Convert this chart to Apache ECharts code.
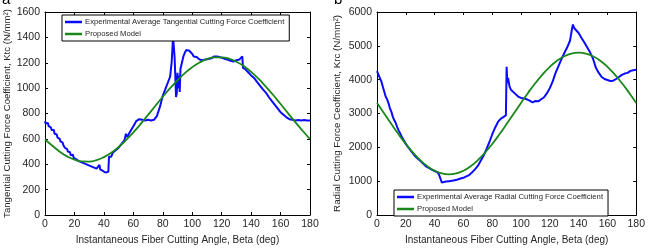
<!DOCTYPE html>
<html>
<head>
<meta charset="utf-8">
<script src="https://cdn.jsdelivr.net/npm/echarts@6/dist/echarts.min.js"></script>
<style>
html, body { margin: 0; padding: 0; background: #fff; }
#chart { width: 648px; height: 250px; }
</style>
</head>
<body>
<div id="chart"></div>
<script>
// beta (deg) ticks
const xTicks = [0, 20, 40, 60, 80, 100, 120, 140, 160, 180]

// (a) tangential coefficient, experimental [beta, Ktc]
const ktcExperimental = [
    [0, 740], [0.5, 720], [1, 730], [1.5, 705], [2, 725], [2.5, 700], [3, 710], [3.5, 685], [4, 690], [4.5, 670], [5, 680],
    [5.5, 655], [6, 670], [6.5, 640], [7, 650], [7.5, 625], [8, 635], [8.5, 610], [9, 620], [9.5, 595], [10, 600],
    [10.5, 580], [11, 590], [11.5, 565], [12, 570], [12.5, 550], [13, 555], [13.5, 530], [14, 540], [14.5, 515], [15, 520],
    [15.5, 500], [16, 505], [16.5, 485], [17, 495], [17.5, 470], [18, 480], [18.5, 460], [19, 475], [19.5, 450], [20, 460],
    [21, 440], [22, 450], [23, 425], [24, 435], [25, 415], [26, 425], [27, 405], [28, 415], [29, 395], [30, 405],
    [31, 385], [32, 395], [33, 375], [34, 385], [35, 365], [36, 375], [37, 395], [37.5, 360], [38, 370], [39, 350], [40, 355],
    [41, 335], [42, 330], [43, 340], [43.5, 460], [44, 475], [45, 460], [46, 490], [47, 480], [48, 510], [49, 505],
    [50, 530], [51, 525], [52, 560], [53, 555], [54, 590], [55, 640], [56, 615], [57, 640], [58, 660], [59, 680], [60, 700],
    [61, 720], [62, 740], [64, 755], [66, 750], [68, 745], [70, 750], [72, 745], [74, 750], [76, 780], [78, 850],
    [80, 940], [82, 1000], [84, 1060], [85, 1090], [86, 1200], [87, 1400], [88, 1250], [88.5, 1100], [89, 930], [89.5, 960],
    [90, 1120], [90.5, 1000], [91, 1100], [91.5, 970], [92, 1150], [93, 1200], [94, 1250], [95, 1280], [96, 1300], [97, 1310],
    [98, 1295], [99, 1280], [100, 1270], [101, 1250], [102, 1240], [103, 1245], [104, 1230], [105, 1225], [106, 1215], [107, 1220],
    [108, 1205], [109, 1225], [110, 1210], [111, 1230], [112, 1220], [113, 1235], [114, 1240], [115, 1250], [116, 1255], [117, 1250],
    [118, 1245], [120, 1240], [122, 1230], [124, 1225], [126, 1215], [128, 1210], [130, 1220], [132, 1225], [133, 1240], [134, 1250],
    [134.5, 1160], [136, 1150], [138, 1125], [140, 1100], [142, 1080], [144, 1050], [146, 1020], [148, 990], [150, 965], [152, 930],
    [154, 900], [156, 870], [158, 840], [160, 810], [162, 790], [164, 770], [166, 755], [168, 750], [170, 745], [172, 748],
    [174, 745], [176, 748], [178, 745], [180, 745]
]

// (a) proposed model, every 5 deg
const ktcModel = [595, 546, 499, 462, 436, 422, 421, 432, 456, 490, 536, 590, 651, 718, 789, 861, 932, 1000, 1062,
    1118, 1165, 1202, 1228, 1242, 1243, 1232, 1208, 1174, 1128, 1074, 1012, 946, 875, 803, 732, 664, 598]

// (b) radial coefficient, experimental [beta, Krc]
const krcExperimental = [
    [0, 4250], [1, 4150], [2, 4100], [3, 3950], [4, 3800], [5, 3650], [6, 3500], [7, 3420], [8, 3300], [9, 3150],
    [10, 3050], [11, 2900], [12, 2800], [13, 2720], [14, 2600], [15, 2500], [16, 2420], [17, 2330], [18, 2250], [19, 2180],
    [20, 2100], [22, 1980], [24, 1870], [26, 1760], [28, 1680], [30, 1600], [32, 1520], [34, 1440], [36, 1390], [38, 1340],
    [40, 1300], [42, 1260], [43, 1200], [44, 1150], [45, 960], [46, 970], [48, 990], [50, 1000], [52, 1010], [54, 1030],
    [56, 1050], [58, 1080], [60, 1100], [62, 1140], [64, 1180], [66, 1260], [68, 1350], [70, 1450], [72, 1600], [74, 1750],
    [76, 1950], [78, 2150], [80, 2380], [82, 2580], [84, 2750], [86, 2850], [88, 2900], [89.5, 2950], [90, 4380], [90.5, 3900],
    [91, 4050], [92, 3800], [93, 3700], [94, 3650], [96, 3580], [98, 3500], [100, 3460], [102, 3450], [104, 3420], [106, 3380],
    [108, 3330], [110, 3370], [112, 3360], [114, 3420], [116, 3480], [118, 3600], [120, 3750], [122, 3950], [124, 4200], [126, 4400],
    [128, 4600], [130, 4780], [132, 4950], [134, 5150], [135, 5400], [136, 5630], [137, 5520], [138, 5480], [140, 5380], [142, 5230],
    [144, 5100], [146, 4950], [148, 4800], [150, 4620], [152, 4350], [154, 4200], [156, 4080], [158, 4020], [160, 3990], [162, 3960],
    [164, 3970], [166, 4020], [168, 4080], [170, 4140], [172, 4180], [174, 4200], [176, 4260], [178, 4280], [180, 4290]
]

// (b) proposed model, every 5 deg
const krcModel = [3312, 3000, 2687, 2384, 2100, 1843, 1621, 1441, 1309, 1227, 1200, 1227, 1309, 1441, 1621, 1843, 2100, 2384, 2687,
    3000, 3313, 3616, 3900, 4157, 4379, 4559, 4691, 4773, 4800, 4773, 4691, 4559, 4379, 4157, 3900, 3616, 3313]

const modelStep = 5
const nameKtcExp = 'Experimental Average Tangential Cutting Force Coefficient'
const nameKrcExp = 'Experimental Average Radial Cutting Force Coefficient'
const nameModel = 'Proposed Model'

const FONT = 'Liberation Sans, Arial, sans-serif'
const TXT = '#262626'
const BLUE = '#0a0aff'
const GREEN = '#1a871a'

const toPairs = (arr) => arr.map((v, i) => [i * modelStep, v])

const chartInstance = echarts.init(document.getElementById('chart'))

const xAxisFor = (grid, pos, withLabel) => ({
    type: 'value', gridIndex: grid, position: pos,
    min: 0, max: 180, interval: 20,
    axisLine: { show: true, onZero: false, lineStyle: { color: '#000', width: 1 } },
    axisTick: { show: true, inside: true, length: 3, lineStyle: { color: '#000' } },
    axisLabel: { show: withLabel, color: TXT, fontSize: 10.5, fontFamily: FONT, margin: 4, formatter: (v) => String(v) },
    splitLine: { show: false },
    name: withLabel ? 'Instantaneous Fiber Cutting Angle, Beta (deg)' : '',
    nameLocation: 'middle', nameGap: 20,
    nameTextStyle: { color: TXT, fontSize: 10, fontFamily: FONT }
})

const yAxisFor = (grid, pos, max, interval, title, gap, size) => ({
    type: 'value', gridIndex: grid, position: pos,
    min: 0, max: max, interval: interval,
    axisLine: { show: true, onZero: false, lineStyle: { color: '#000', width: 1 } },
    axisTick: { show: true, inside: true, length: 3, lineStyle: { color: '#000' } },
    axisLabel: { show: !!title, color: TXT, fontSize: 10.5, fontFamily: FONT, margin: 5, formatter: (v) => String(v) },
    splitLine: { show: false },
    name: title || '',
    nameLocation: 'middle', nameGap: gap || 0,
    nameTextStyle: { color: TXT, fontSize: size || 10, fontFamily: FONT }
})

const legendFor = (pos, names) => Object.assign({
    orient: 'vertical',
    data: names,
    icon: 'rect',
    itemWidth: 17, itemHeight: 2.5, itemGap: 4,
    padding: [3, 5, 3, 3],
    borderColor: '#000', borderWidth: 1,
    backgroundColor: '#fff',
    selectedMode: false,
    textStyle: { color: TXT, fontSize: 7.7, fontFamily: FONT, padding: [0, 0, 0, -2] }
}, pos)

const option = {
    animation: false,
    backgroundColor: '#fff',
    grid: [
        { left: 45, top: 12, width: 265, height: 209 },
        { left: 377, top: 12, width: 265, height: 209 }
    ],
    xAxis: [
        xAxisFor(0, 'bottom', true), xAxisFor(0, 'top', false),
        xAxisFor(1, 'bottom', true), xAxisFor(1, 'top', false)
    ],
    yAxis: [
        yAxisFor(0, 'left', 1600, 200, 'Tangential Cutting Force Coefficient, Ktc (N/mm²)', 32, 9.6),
        yAxisFor(0, 'right', 1600, 200),
        yAxisFor(1, 'left', 6000, 1000, 'Radial Cutting Force Ceofficient, Krc (N/mm²)', 35, 9.8),
        yAxisFor(1, 'right', 6000, 1000)
    ],
    legend: [
        legendFor({ left: 62, top: 15 }, [nameKtcExp, nameModel]),
        legendFor({ left: 394, top: 190 }, [nameKrcExp, nameModel])
    ],
    graphic: [
        { type: 'text', left: 2, top: -8, style: { text: 'a', fill: '#000', font: '15px ' + FONT } },
        { type: 'text', left: 334, top: -8, style: { text: 'b', fill: '#000', font: '15px ' + FONT } }
    ],
    series: [
        {
            name: nameKtcExp, type: 'line', xAxisIndex: 0, yAxisIndex: 0,
            data: ktcExperimental, showSymbol: false,
            lineStyle: { color: BLUE, width: 2 }, itemStyle: { color: BLUE }
        },
        {
            name: nameModel, type: 'line', xAxisIndex: 0, yAxisIndex: 0,
            data: toPairs(ktcModel), showSymbol: false, smooth: true,
            lineStyle: { color: GREEN, width: 1.8 }, itemStyle: { color: GREEN }
        },
        {
            name: nameKrcExp, type: 'line', xAxisIndex: 2, yAxisIndex: 2,
            data: krcExperimental, showSymbol: false,
            lineStyle: { color: BLUE, width: 2 }, itemStyle: { color: BLUE }
        },
        {
            name: nameModel, type: 'line', xAxisIndex: 2, yAxisIndex: 2,
            data: toPairs(krcModel), showSymbol: false, smooth: true,
            lineStyle: { color: GREEN, width: 1.8 }, itemStyle: { color: GREEN }
        }
    ]
}

chartInstance.setOption(option)
</script>
</body>
</html>
